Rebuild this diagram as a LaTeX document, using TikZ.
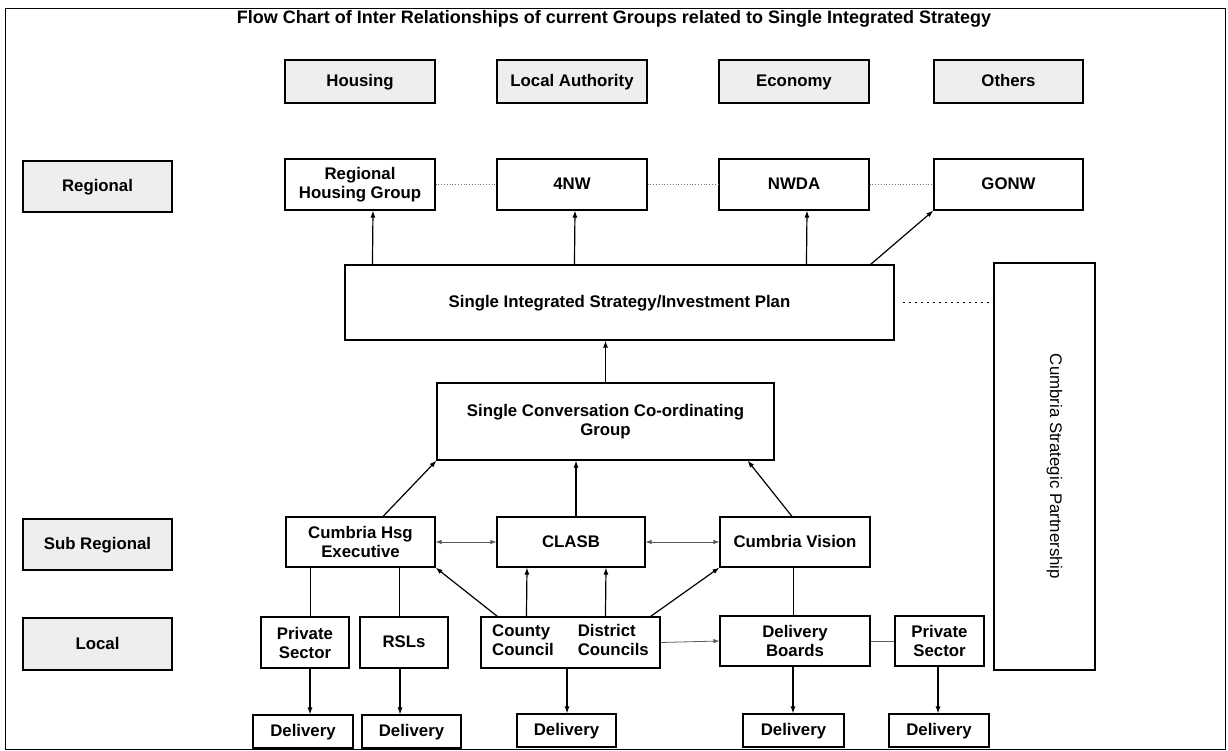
\documentclass[tikz,border=0pt]{standalone}
\usepackage{fontspec}
\setmainfont{Liberation Sans}
\usetikzlibrary{arrows.meta}
\newcommand{\bx}[7]{\node[#1, minimum width={#5pt-#3pt}, minimum height={#6pt-#4pt}]
  (#2) at ({(#3+#5)/2},{(#4+#6)/2}) {#7};}
\begin{document}
\begin{tikzpicture}[x=1pt,y=-1pt,
  box/.style={draw, line width=1.1pt, inner sep=0pt, align=center,
    font=\fontsize{16.8}{19}\selectfont\bfseries},
  one/.style={box, text height=10pt, text depth=0pt},
  cat/.style={one, fill=gray!13},
  arr/.style={line width=1.2pt, -{Latex[length=7pt,width=5pt]}},
  dbl/.style={line width=0.8pt, black!65, {Latex[length=6pt,width=4.5pt]}-{Latex[length=6pt,width=4.5pt]}},
  thinarr/.style={line width=0.8pt, black!65, -{Latex[length=6pt,width=4.5pt]}},
  plain/.style={line width=1pt},
  link/.style={line width=0.8pt, black!55, dotted},
  csplink/.style={line width=1.2pt, dash pattern=on 2pt off 4pt}]
\useasboundingbox (0,0) rectangle (1228,751);
\draw[line width=0.9pt] (5,8) rectangle (1225,749);
\node[font=\fontsize{18}{21}\selectfont\bfseries] (title) at (614,19)
  {Flow Chart of Inter Relationships of current Groups related to Single Integrated Strategy};
% category row
\bx{cat}{housing}{285}{60}{435}{103}{Housing}
\bx{cat}{la}{497}{60}{647}{103}{Local Authority}
\bx{cat}{economy}{719}{60}{869}{103}{Economy}
\bx{cat}{others}{934}{60}{1083}{103}{Others}
% level labels
\bx{cat}{regional}{23}{161}{172}{212}{Regional}
\bx{cat}{subreg}{23}{519}{172}{570}{Sub Regional}
\bx{cat}{local}{23}{618}{172}{670}{Local}
% regional row
\bx{box}{rhg}{285}{159}{435}{210}{Regional\\Housing Group}
\bx{one}{nw4}{497}{159}{647}{210}{4NW}
\bx{one}{nwda}{719}{159}{869}{210}{NWDA}
\bx{one}{gonw}{934}{159}{1083}{210}{GONW}
% strategy
\bx{one}{sis}{345}{265}{894}{340}{Single Integrated Strategy/Investment Plan}
\node[draw, line width=1.1pt, inner sep=0pt, minimum width=101pt, minimum height=407pt,
  label={[rotate=-90, yshift=10pt, font=\fontsize{16.8}{19}\selectfont]center:Cumbria Strategic Partnership}]
  (csp) at (1044.5,466.5) {};
\bx{box}{sccg}{437}{383}{774}{460}{Single Conversation Co-ordinating\\Group}
% sub regional row
\bx{box}{che}{286}{517}{435}{567}{Cumbria Hsg\\Executive}
\bx{one}{clasb}{497}{517}{645}{567}{CLASB}
\bx{one}{cv}{720}{517}{870}{567}{Cumbria Vision}
% local row
\bx{box}{ps1}{261}{617}{349}{668}{Private\\Sector}
\bx{one}{rsl}{360}{617}{448}{668}{RSLs}
\bx{box}{ccdc}{481}{617}{660}{668}{\begin{tabular}{@{}l@{\hspace{24pt}}l@{}}County & District\\Council & Councils\end{tabular}}
\bx{box}{db}{720}{616}{870}{666}{Delivery\\Boards}
\bx{box}{ps2}{895}{616}{984}{666}{Private\\Sector}
% delivery row
\bx{one}{d1}{253}{715}{353}{748}{Delivery}
\bx{one}{d2}{362}{715}{461}{748}{Delivery}
\bx{one}{d3}{517}{714}{616}{747}{Delivery}
\bx{one}{d4}{743}{714}{844}{747}{Delivery}
\bx{one}{d5}{889}{714}{989}{747}{Delivery}
% regional links
\draw[link] (rhg.east) -- (nw4.west);
\draw[link] (nw4.east) -- (nwda.west);
\draw[link] (nwda.east) -- (gonw.west);
% strategy to regional
\draw[arr] ([xshift=28pt]sis.north west) -- ([xshift=13pt]rhg.south);
\draw[arr] ([xshift=230pt]sis.north west) -- ([xshift=3pt]nw4.south);
\draw[arr] ([xshift=462pt]sis.north west) -- ([xshift=13pt]nwda.south);
\draw[arr] ([xshift=-24pt]sis.north east) -- (gonw.south west);
\draw[csplink] ([xshift=8pt]sis.east) -- (sis.east -| csp.west);
% sccg
\draw[arr] (sccg.north) -- (sccg.north |- sis.south);
\draw[arr] ([xshift=22.5pt]che.north) -- (sccg.south west);
\draw[arr] ([xshift=5pt]clasb.north) -- ([xshift=-29.5pt]sccg.south);
\draw[arr] ([xshift=-3pt]cv.north) -- ([xshift=-27pt]sccg.south east);
% sub regional links
\draw[dbl] (che.east) -- (clasb.west);
\draw[dbl] (clasb.east) -- (cv.west);
\draw[plain] ([xshift=-50.5pt]che.south) -- ([xshift=5pt]ps1.north);
\draw[plain] ([xshift=38.5pt]che.south) -- ([xshift=-5pt]rsl.north);
\draw[plain] ([xshift=-2pt]cv.south) -- ([xshift=-2pt]db.north);
% councils
\draw[arr] ([xshift=17pt]ccdc.north west) -- (che.south east);
\draw[arr] ([xshift=46pt]ccdc.north west) -- ([xshift=-44pt]clasb.south);
\draw[arr] ([xshift=125pt]ccdc.north west) -- ([xshift=35pt]clasb.south);
\draw[arr] ([xshift=-10pt]ccdc.north east) -- (cv.south west);
\draw[thinarr] (ccdc.east) -- (db.west);
\draw[line width=0.8pt, black!65] (db.east) -- (ps2.west);
% delivery
\draw[arr] ([xshift=5pt]ps1.south) -- ([xshift=7pt]d1.north);
\draw[arr] ([xshift=-4pt]rsl.south) -- ([xshift=-11.5pt]d2.north);
\draw[arr] ([xshift=-3.5pt]ccdc.south) -- ([xshift=0.5pt]d3.north);
\draw[arr] ([xshift=-2pt]db.south) -- ([xshift=-0.5pt]d4.north);
\draw[arr] ([xshift=-1.5pt]ps2.south) -- ([xshift=-1pt]d5.north);
\end{tikzpicture}
\end{document}
